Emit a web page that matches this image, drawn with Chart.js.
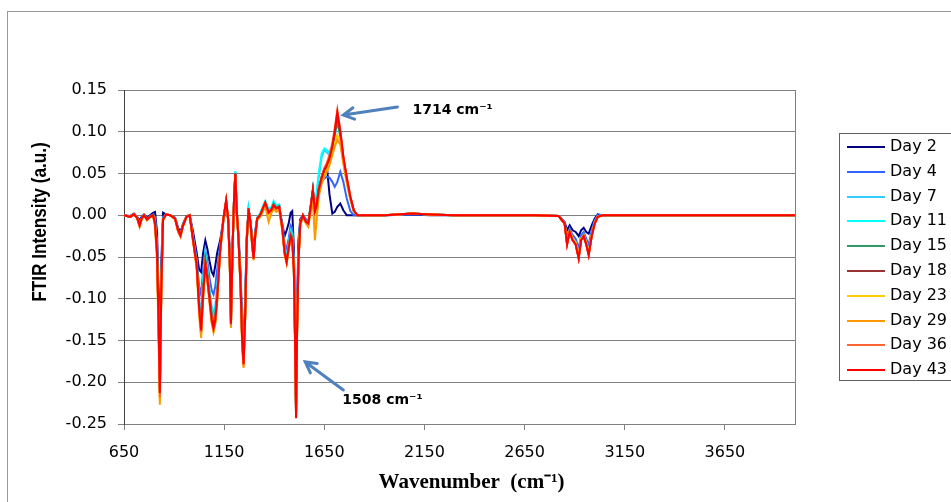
<!DOCTYPE html>
<html>
<head>
<meta charset="utf-8">
<title>FTIR spectra</title>
<script src="https://cdn.jsdelivr.net/npm/chart.js@4.4.0/dist/chart.umd.min.js"></script>
<style>
  html, body { margin: 0; padding: 0; background: #fff; overflow: hidden; }
  #wrap { width: 951px; height: 502px; }
</style>
</head>
<body>
<div id="wrap"><canvas id="ftirChart" width="951" height="502"></canvas></div>
<script>
// Wavenumber grid (cm-1), shared by every spectrum
const wavenumbers = [
    650, 680, 700, 715, 728, 738, 750, 765, 780, 795,
    805, 815, 822, 829, 836, 845, 860, 880, 905, 920,
    932, 945, 962, 978, 995, 1013, 1025, 1035, 1045, 1056,
    1066, 1077, 1088, 1097, 1106, 1115, 1130, 1147, 1160, 1170,
    1178, 1184, 1192, 1200, 1206, 1213, 1222, 1232, 1240, 1247,
    1255, 1263, 1272, 1282, 1290, 1297, 1305, 1315, 1330, 1343,
    1355, 1372, 1385, 1397, 1410, 1425, 1440, 1452, 1462, 1472,
    1482, 1490, 1498, 1504, 1509, 1514, 1521, 1530, 1543, 1558,
    1570, 1582, 1593, 1603, 1612, 1622, 1637, 1650, 1663, 1676,
    1690, 1702, 1715, 1730, 1745, 1762, 1780, 1797, 1815, 1840,
    1950, 2090, 2180, 2300, 2500, 2700, 2820, 2850, 2862, 2875,
    2890, 2905, 2920, 2932, 2945, 2958, 2970, 2985, 3000, 3015,
    3040, 3200, 3500, 3800, 4000
];

// FTIR intensity (a.u.) per day
const day2 = [
    0.000, -0.001, 0.002, -0.002, -0.006, -0.002, 0.001, -0.003, 0.000, 0.003,
    0.004, -0.020, -0.090, -0.165, -0.060, 0.003, 0.001, 0.000, -0.003, -0.015,
    -0.020, -0.010, -0.001, 0.000, -0.020, -0.045, -0.065, -0.068, -0.045, -0.030,
    -0.040, -0.055, -0.068, -0.072, -0.060, -0.045, -0.030, -0.005, 0.010, -0.005,
    -0.045, -0.110, -0.035, 0.015, 0.040, 0.003, -0.025, -0.070, -0.130, -0.160,
    -0.100, -0.025, 0.005, -0.008, -0.028, -0.042, -0.020, -0.003, 0.000, 0.006,
    0.012, 0.002, 0.004, 0.010, 0.006, 0.008, -0.010, -0.025, -0.018, -0.010,
    0.003, 0.005, -0.040, -0.120, -0.200, -0.110, -0.030, -0.005, 0.000, -0.005,
    -0.008, 0.008, 0.025, 0.008, 0.018, 0.030, 0.045, 0.055, 0.058, 0.025,
    0.002, 0.004, 0.010, 0.014, 0.006, 0.000, 0.000, 0.000, 0.000, 0.000,
    0.000, 0.001, 0.000, 0.000, 0.000, 0.000, -0.001, -0.008, -0.018, -0.012,
    -0.018, -0.020, -0.025, -0.018, -0.015, -0.020, -0.022, -0.012, -0.004, 0.001,
    0.000, 0.000, 0.000, 0.000, 0.000
];
const day4 = [
    0.000, -0.002, 0.001, -0.003, -0.009, -0.003, 0.000, -0.004, -0.001, 0.001,
    -0.002, -0.035, -0.105, -0.190, -0.075, -0.002, 0.001, 0.000, -0.004, -0.017,
    -0.022, -0.011, -0.002, 0.000, -0.025, -0.052, -0.085, -0.095, -0.065, -0.042,
    -0.055, -0.075, -0.090, -0.095, -0.085, -0.065, -0.036, -0.004, 0.014, -0.005,
    -0.050, -0.120, -0.038, 0.020, 0.045, 0.004, -0.028, -0.078, -0.140, -0.168,
    -0.110, -0.028, 0.006, -0.009, -0.032, -0.047, -0.023, -0.004, 0.000, 0.007,
    0.013, 0.003, 0.005, 0.011, 0.007, 0.009, -0.012, -0.035, -0.040, -0.028,
    -0.012, -0.015, -0.055, -0.140, -0.225, -0.125, -0.045, -0.008, 0.000, -0.006,
    -0.009, 0.009, 0.028, 0.008, 0.015, 0.030, 0.040, 0.044, 0.046, 0.045,
    0.040, 0.034, 0.040, 0.052, 0.040, 0.020, 0.005, 0.000, 0.000, 0.000,
    0.000, 0.001, 0.001, 0.000, 0.000, 0.000, -0.001, -0.009, -0.028, -0.016,
    -0.024, -0.028, -0.040, -0.024, -0.020, -0.028, -0.036, -0.018, -0.006, 0.000,
    0.000, 0.000, 0.000, 0.000, 0.000
];
const day7 = [
    0.000, -0.002, 0.001, -0.003, -0.011, -0.004, 0.000, -0.005, -0.002, 0.000,
    -0.006, -0.040, -0.115, -0.205, -0.085, -0.004, 0.001, 0.000, -0.004, -0.018,
    -0.023, -0.012, -0.002, 0.000, -0.028, -0.057, -0.100, -0.120, -0.075, -0.045,
    -0.062, -0.088, -0.110, -0.118, -0.108, -0.085, -0.040, -0.003, 0.016, -0.005,
    -0.052, -0.125, -0.040, 0.024, 0.052, 0.005, -0.029, -0.082, -0.145, -0.172,
    -0.115, -0.029, 0.007, -0.009, -0.033, -0.050, -0.024, -0.003, 0.002, 0.010,
    0.016, 0.006, 0.008, 0.016, 0.010, 0.012, -0.013, -0.040, -0.050, -0.034,
    -0.018, -0.022, -0.060, -0.145, -0.235, -0.132, -0.050, -0.009, 0.000, -0.007,
    -0.009, 0.011, 0.030, 0.010, 0.025, 0.045, 0.070, 0.078, 0.075, 0.072,
    0.082, 0.095, 0.112, 0.095, 0.066, 0.042, 0.020, 0.005, 0.000, 0.000,
    0.000, 0.002, 0.001, 0.000, 0.000, 0.000, -0.001, -0.010, -0.032, -0.019,
    -0.028, -0.032, -0.048, -0.028, -0.023, -0.032, -0.044, -0.023, -0.008, -0.001,
    0.000, 0.000, 0.000, 0.000, 0.000
];
const day11 = [
    0.000, -0.002, 0.001, -0.003, -0.011, -0.004, 0.000, -0.005, -0.002, 0.000,
    -0.008, -0.042, -0.118, -0.208, -0.088, -0.004, 0.001, 0.000, -0.004, -0.018,
    -0.024, -0.012, -0.002, 0.000, -0.029, -0.058, -0.105, -0.128, -0.080, -0.048,
    -0.066, -0.092, -0.116, -0.124, -0.114, -0.090, -0.041, -0.003, 0.017, -0.005,
    -0.053, -0.128, -0.040, 0.025, 0.053, 0.005, -0.030, -0.083, -0.148, -0.175,
    -0.118, -0.030, 0.007, -0.009, -0.034, -0.051, -0.024, -0.003, 0.002, 0.010,
    0.017, 0.007, 0.009, 0.017, 0.012, 0.013, -0.013, -0.042, -0.053, -0.036,
    -0.020, -0.024, -0.062, -0.147, -0.238, -0.135, -0.052, -0.009, 0.000, -0.007,
    -0.009, 0.012, 0.032, 0.012, 0.028, 0.050, 0.074, 0.080, 0.078, 0.075,
    0.085, 0.098, 0.116, 0.097, 0.068, 0.043, 0.021, 0.005, 0.000, 0.000,
    0.000, 0.002, 0.001, 0.000, 0.000, 0.000, -0.001, -0.010, -0.033, -0.019,
    -0.028, -0.033, -0.049, -0.028, -0.024, -0.033, -0.045, -0.024, -0.009, -0.001,
    0.000, 0.000, 0.000, 0.000, 0.000
];
const day15 = [
    0.000, -0.002, 0.001, -0.003, -0.012, -0.004, 0.000, -0.005, -0.002, 0.000,
    -0.009, -0.043, -0.118, -0.210, -0.089, -0.005, 0.001, 0.000, -0.004, -0.018,
    -0.024, -0.012, -0.002, 0.000, -0.029, -0.059, -0.107, -0.132, -0.088, -0.053,
    -0.070, -0.095, -0.120, -0.128, -0.118, -0.094, -0.042, -0.003, 0.017, -0.005,
    -0.054, -0.129, -0.040, 0.025, 0.050, 0.005, -0.030, -0.084, -0.149, -0.176,
    -0.119, -0.030, 0.008, -0.010, -0.035, -0.051, -0.025, -0.004, 0.001, 0.008,
    0.015, 0.004, 0.007, 0.014, 0.009, 0.011, -0.014, -0.044, -0.055, -0.038,
    -0.022, -0.026, -0.063, -0.148, -0.240, -0.137, -0.053, -0.010, 0.000, -0.008,
    -0.010, 0.010, 0.030, 0.006, 0.014, 0.032, 0.047, 0.056, 0.062, 0.070,
    0.083, 0.097, 0.112, 0.095, 0.067, 0.043, 0.021, 0.006, 0.000, 0.000,
    0.000, 0.002, 0.001, 0.000, 0.000, 0.000, -0.001, -0.010, -0.034, -0.020,
    -0.029, -0.034, -0.050, -0.029, -0.024, -0.034, -0.046, -0.024, -0.009, -0.002,
    0.000, 0.000, 0.000, 0.000, 0.000
];
const day18 = [
    0.000, -0.002, 0.001, -0.003, -0.012, -0.004, 0.000, -0.005, -0.002, 0.000,
    -0.010, -0.044, -0.119, -0.212, -0.090, -0.005, 0.001, 0.000, -0.004, -0.018,
    -0.024, -0.012, -0.002, 0.000, -0.030, -0.060, -0.109, -0.136, -0.092, -0.056,
    -0.073, -0.098, -0.123, -0.133, -0.123, -0.098, -0.042, -0.003, 0.018, -0.005,
    -0.055, -0.130, -0.040, 0.025, 0.050, 0.005, -0.030, -0.085, -0.150, -0.178,
    -0.120, -0.030, 0.008, -0.010, -0.035, -0.052, -0.025, -0.004, 0.000, 0.008,
    0.015, 0.003, 0.006, 0.012, 0.008, 0.010, -0.015, -0.045, -0.056, -0.040,
    -0.025, -0.030, -0.065, -0.150, -0.242, -0.140, -0.055, -0.010, 0.000, -0.008,
    -0.010, 0.010, 0.030, 0.005, 0.012, 0.030, 0.045, 0.054, 0.060, 0.068,
    0.082, 0.099, 0.120, 0.099, 0.069, 0.044, 0.022, 0.006, 0.000, 0.000,
    0.000, 0.002, 0.001, 0.000, 0.000, 0.000, -0.001, -0.010, -0.034, -0.020,
    -0.030, -0.035, -0.051, -0.030, -0.025, -0.035, -0.047, -0.025, -0.010, -0.002,
    0.000, 0.000, 0.000, 0.000, 0.000
];
const day23 = [
    0.000, -0.002, 0.001, -0.003, -0.013, -0.005, 0.000, -0.006, -0.002, 0.000,
    -0.012, -0.050, -0.130, -0.222, -0.095, -0.006, 0.001, 0.000, -0.004, -0.019,
    -0.025, -0.013, -0.002, 0.000, -0.031, -0.062, -0.115, -0.143, -0.098, -0.060,
    -0.077, -0.103, -0.128, -0.138, -0.128, -0.102, -0.044, -0.004, 0.016, -0.006,
    -0.058, -0.133, -0.042, 0.022, 0.047, 0.004, -0.031, -0.088, -0.155, -0.181,
    -0.122, -0.031, 0.007, -0.011, -0.036, -0.053, -0.026, -0.005, -0.001, 0.006,
    0.013, 0.000, 0.004, 0.010, 0.006, 0.008, -0.017, -0.047, -0.057, -0.041,
    -0.026, -0.031, -0.066, -0.152, -0.240, -0.142, -0.057, -0.011, -0.001, -0.009,
    -0.012, 0.006, 0.022, -0.015, 0.000, 0.025, 0.040, 0.048, 0.054, 0.062,
    0.075, 0.085, 0.096, 0.088, 0.064, 0.040, 0.020, 0.005, 0.000, 0.000,
    0.000, 0.002, 0.001, 0.000, 0.000, 0.000, -0.001, -0.010, -0.033, -0.019,
    -0.028, -0.033, -0.048, -0.028, -0.024, -0.033, -0.045, -0.024, -0.009, -0.002,
    0.000, 0.000, 0.000, 0.000, 0.000
];
const day29 = [
    0.000, -0.002, 0.001, -0.003, -0.014, -0.005, 0.000, -0.006, -0.002, 0.000,
    -0.014, -0.055, -0.140, -0.227, -0.100, -0.006, 0.001, 0.000, -0.005, -0.020,
    -0.026, -0.013, -0.002, 0.000, -0.032, -0.064, -0.120, -0.147, -0.100, -0.062,
    -0.079, -0.105, -0.130, -0.140, -0.130, -0.104, -0.045, -0.004, 0.015, -0.006,
    -0.060, -0.135, -0.043, 0.020, 0.045, 0.003, -0.032, -0.090, -0.158, -0.183,
    -0.124, -0.032, 0.006, -0.012, -0.037, -0.054, -0.027, -0.006, -0.002, 0.004,
    0.011, -0.008, 0.002, 0.008, 0.004, 0.006, -0.018, -0.048, -0.058, -0.042,
    -0.027, -0.032, -0.067, -0.153, -0.238, -0.143, -0.058, -0.012, -0.002, -0.010,
    -0.014, 0.004, 0.018, -0.030, -0.005, 0.022, 0.038, 0.046, 0.052, 0.060,
    0.072, 0.082, 0.090, 0.085, 0.062, 0.039, 0.019, 0.005, 0.000, 0.000,
    0.000, 0.002, 0.001, 0.000, 0.000, 0.000, -0.001, -0.010, -0.034, -0.020,
    -0.029, -0.034, -0.050, -0.029, -0.024, -0.034, -0.046, -0.024, -0.009, -0.002,
    0.000, 0.000, 0.000, 0.000, 0.000
];
const day36 = [
    0.000, -0.002, 0.001, -0.003, -0.013, -0.004, 0.000, -0.005, -0.002, 0.000,
    -0.012, -0.048, -0.125, -0.218, -0.093, -0.005, 0.001, 0.000, -0.004, -0.019,
    -0.025, -0.012, -0.002, 0.000, -0.031, -0.061, -0.112, -0.140, -0.097, -0.059,
    -0.076, -0.102, -0.127, -0.137, -0.127, -0.101, -0.043, -0.003, 0.017, -0.005,
    -0.056, -0.132, -0.041, 0.024, 0.049, 0.005, -0.030, -0.086, -0.152, -0.180,
    -0.121, -0.030, 0.008, -0.010, -0.035, -0.052, -0.025, -0.004, 0.000, 0.008,
    0.015, 0.003, 0.006, 0.012, 0.008, 0.010, -0.015, -0.045, -0.056, -0.040,
    -0.025, -0.030, -0.065, -0.150, -0.241, -0.140, -0.055, -0.010, 0.000, -0.008,
    -0.010, 0.010, 0.028, 0.004, 0.012, 0.030, 0.046, 0.056, 0.063, 0.072,
    0.086, 0.104, 0.126, 0.102, 0.071, 0.046, 0.023, 0.006, 0.000, 0.000,
    0.000, 0.002, 0.001, 0.000, 0.000, 0.000, -0.001, -0.010, -0.035, -0.020,
    -0.030, -0.035, -0.052, -0.030, -0.025, -0.035, -0.048, -0.025, -0.010, -0.002,
    0.000, 0.000, 0.000, 0.000, 0.000
];
const day43 = [
    0.000, -0.002, 0.001, -0.003, -0.012, -0.004, 0.000, -0.005, -0.002, 0.000,
    -0.010, -0.045, -0.120, -0.213, -0.090, -0.005, 0.001, 0.000, -0.004, -0.018,
    -0.024, -0.012, -0.002, 0.000, -0.030, -0.060, -0.110, -0.138, -0.095, -0.058,
    -0.075, -0.100, -0.125, -0.135, -0.125, -0.100, -0.042, -0.003, 0.018, -0.005,
    -0.055, -0.130, -0.040, 0.025, 0.050, 0.005, -0.030, -0.085, -0.150, -0.178,
    -0.120, -0.030, 0.008, -0.010, -0.035, -0.052, -0.025, -0.004, 0.000, 0.008,
    0.015, 0.003, 0.006, 0.012, 0.008, 0.010, -0.015, -0.045, -0.056, -0.040,
    -0.025, -0.030, -0.065, -0.150, -0.243, -0.140, -0.055, -0.010, 0.000, -0.008,
    -0.010, 0.010, 0.030, 0.005, 0.012, 0.030, 0.045, 0.054, 0.060, 0.068,
    0.082, 0.100, 0.123, 0.100, 0.070, 0.045, 0.022, 0.006, 0.000, 0.000,
    0.000, 0.002, 0.001, 0.000, 0.000, 0.000, -0.001, -0.010, -0.035, -0.020,
    -0.030, -0.035, -0.052, -0.030, -0.025, -0.035, -0.048, -0.025, -0.010, -0.002,
    0.000, 0.000, 0.000, 0.000, 0.000
];

const dayLabels = ['Day 2', 'Day 4', 'Day 7', 'Day 11', 'Day 15', 'Day 18', 'Day 23', 'Day 29', 'Day 36', 'Day 43'];
const dayColors = ['#000080', '#3366FF', '#33CCFF', '#00FFFF', '#339966', '#993333', '#FFCC00', '#FF9900', '#FF6633', '#FF0000'];
const xTickValues = [650, 1150, 1650, 2150, 2650, 3150, 3650];
const yTickValues = [-0.25, -0.20, -0.15, -0.10, -0.05, 0.00, 0.05, 0.10, 0.15];

// Peak call-outs, in data coordinates (wavenumber, intensity)
const callouts = [
    { text: '1714 cm\u207B\u00B9', at: [2090, 0.126], tail: [2015, 0.1296], head: [1745, 0.120] },
    { text: '1508 cm\u207B\u00B9', at: [1740, -0.2213], tail: [1745, -0.2093], head: [1555, -0.1757] }
];

const series = [day2, day4, day7, day11, day15, day18, day23, day29, day36, day43];

const datasets = series.map((vals, i) => ({
    label: dayLabels[i],
    data: wavenumbers.map((w, j) => ({ x: w, y: vals[j] })),
    borderColor: dayColors[i],
    backgroundColor: dayColors[i],
    borderWidth: 2,
    pointRadius: 0,
    tension: 0,
    fill: false,
    order: series.length - 1 - i   // later days drawn on top
}));

// Frame, legend, axis titles and arrows (Excel-style extras)
const extras = {
    id: 'extras',
    beforeDraw(chart) {
        const { ctx, width, height } = chart;
        ctx.save();
        ctx.fillStyle = '#fff';
        ctx.fillRect(0, 0, width, height);
        ctx.strokeStyle = '#9a9a9a';
        ctx.lineWidth = 1;
        ctx.strokeRect(7.5, 11.5, width + 20, height + 20);
        ctx.restore();
    },
    beforeDatasetsDraw(chart) {
        const { ctx, chartArea: a } = chart;
        ctx.save();
        ctx.strokeStyle = '#808080';
        ctx.lineWidth = 1;
        ctx.beginPath();
        ctx.moveTo(Math.round(a.right) + 0.5, a.top);
        ctx.lineTo(Math.round(a.right) + 0.5, a.bottom);
        ctx.stroke();
        ctx.restore();
    },
    afterDraw(chart) {
        const { ctx, chartArea: a, scales: { x, y } } = chart;
        ctx.save();
        ctx.fillStyle = '#000';

        // y axis title (narrow bold)
        ctx.save();
        ctx.translate(40, 222);
        ctx.rotate(-Math.PI / 2);
        ctx.scale(0.86, 1);
        ctx.font = 'bold 20px "Liberation Sans", Arial, sans-serif';
        ctx.textAlign = 'center';
        ctx.textBaseline = 'middle';
        ctx.fillText('FTIR Intensity (a.u.)', 0, 0);
        ctx.restore();

        // x axis title
        ctx.font = 'bold 21px "Liberation Serif", "Times New Roman", serif';
        ctx.textAlign = 'center';
        ctx.textBaseline = 'middle';
        ctx.fillText('Wavenumber  (cm\u207B\u00B9)', (a.left + a.right) / 2 + 12, 483);

        // legend
        const boxLeft = a.right + 44, boxTop = 133, rowH = 24.8, firstY = 147;
        ctx.strokeStyle = '#606060';
        ctx.lineWidth = 1;
        ctx.strokeRect(Math.round(boxLeft) + 0.5, boxTop + 0.5, 200, Math.round(firstY - boxTop + rowH * 9 + 10));
        ctx.font = '16px "DejaVu Sans", sans-serif';
        ctx.textAlign = 'left';
        chart.data.datasets.forEach((ds, i) => {
            const ly = Math.round(firstY + i * rowH);
            ctx.strokeStyle = ds.borderColor;
            ctx.lineWidth = 2;
            ctx.beginPath();
            ctx.moveTo(boxLeft + 8, ly);
            ctx.lineTo(boxLeft + 46, ly);
            ctx.stroke();
            ctx.fillText(ds.label, boxLeft + 51, ly);
        });

        // call-out arrows and labels
        ctx.strokeStyle = '#4F81BD';
        ctx.lineWidth = 3;
        ctx.lineCap = 'round';
        ctx.font = 'bold 14px "DejaVu Sans", sans-serif';
        callouts.forEach(c => {
            const tx = x.getPixelForValue(c.tail[0]), ty = y.getPixelForValue(c.tail[1]);
            const hx = x.getPixelForValue(c.head[0]), hy = y.getPixelForValue(c.head[1]);
            const ang = Math.atan2(hy - ty, hx - tx);
            ctx.beginPath();
            ctx.moveTo(tx, ty);
            ctx.lineTo(hx, hy);
            ctx.moveTo(hx - 12 * Math.cos(ang - 0.5), hy - 12 * Math.sin(ang - 0.5));
            ctx.lineTo(hx, hy);
            ctx.lineTo(hx - 12 * Math.cos(ang + 0.5), hy - 12 * Math.sin(ang + 0.5));
            ctx.stroke();
            ctx.fillText(c.text, x.getPixelForValue(c.at[0]), y.getPixelForValue(c.at[1]));
        });
        ctx.restore();
    }
};

const ctx = document.getElementById('ftirChart').getContext('2d');
new Chart(ctx, {
    type: 'line',
    data: { datasets },
    plugins: [extras],
    options: {
        responsive: false,
        animation: false,
        events: [],
        layout: { padding: { top: 90, right: 156, left: 0, bottom: 0 } },
        plugins: {
            legend: { display: false },
            tooltip: { enabled: false }
        },
        scales: {
            x: {
                type: 'linear',
                min: 650,
                max: 4000,
                afterFit: s => { s.height = 78; },
                afterBuildTicks: s => { s.ticks = xTickValues.map(v => ({ value: v })); },
                grid: { drawOnChartArea: false, drawTicks: true, tickLength: 6, color: '#808080' },
                border: { color: '#808080' },
                ticks: {
                    font: { family: '"DejaVu Sans", sans-serif', size: 16 },
                    color: '#000',
                    padding: 13,
                    maxRotation: 0,
                    autoSkip: false,
                    callback: v => String(v)
                }
            },
            y: {
                min: -0.25,
                max: 0.15,
                afterFit: s => { s.width = 124; },
                afterBuildTicks: s => { s.ticks = yTickValues.map(v => ({ value: v })); },
                grid: { color: '#808080', tickLength: 6, drawTicks: true },
                border: { color: '#404040' },
                ticks: {
                    font: { family: '"DejaVu Sans", sans-serif', size: 16 },
                    color: '#000',
                    padding: 11,
                    callback: v => v.toFixed(2)
                }
            }
        }
    }
});
</script>
</body>
</html>
